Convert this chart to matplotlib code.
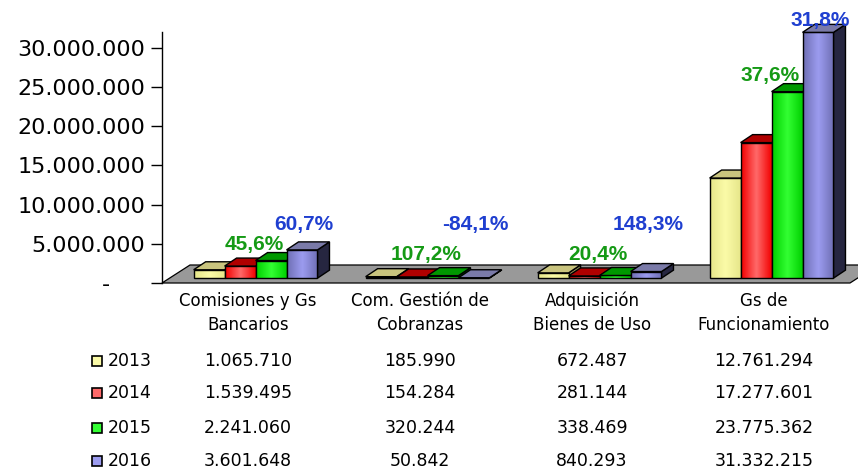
import matplotlib
matplotlib.use("Agg")
import matplotlib.pyplot as plt
import matplotlib.patches as patches
import matplotlib.transforms as mtransforms
from matplotlib.colors import LinearSegmentedColormap
import numpy as np

categorias = ["Comisiones y Gs\nBancarios", "Com. Gestión de\nCobranzas",
              "Adquisición\nBienes de Uso", "Gs de\nFuncionamiento"]
anios = ["2013", "2014", "2015", "2016"]
v2013 = [1065710, 185990, 672487, 12761294]
v2014 = [1539495, 154284, 281144, 17277601]
v2015 = [2241060, 320244, 338469, 23775362]
v2016 = [3601648, 50842, 840293, 31332215]
var_2015 = ["45,6%", "107,2%", "20,4%", "37,6%"]
var_2016 = ["60,7%", "-84,1%", "148,3%", "31,8%"]

series = [v2013, v2014, v2015, v2016]

# colores: (borde del degradado, centro, tapa, lateral)
colores = [("#e6e68a", "#fbfba8", "#c9c47e", "#8f8c55"),
           ("#f20000", "#ff6a6a", "#b00000", "#700000"),
           ("#00d000", "#33ff33", "#009800", "#005a00"),
           ("#6f6fb4", "#9c9cf0", "#7a7aa8", "#262640")]
verde_txt = "#159a15"
azul_txt = "#1f3fd0"

W, H = 858, 469
fig = plt.figure(figsize=(W / 100, H / 100), dpi=100)
ax_l, ax_r, ax_t, ax_b = 162, 850, 32, 283
ax = fig.add_axes([ax_l / W, 1 - ax_b / H, (ax_r - ax_l) / W, (ax_b - ax_t) / H])

ymax = 32e6
ax.set_xlim(-0.5, 3.5)
ax.set_ylim(0, ymax)

# conversion de pixeles a unidades de datos para el efecto 3D
px_x = 4 / (ax_r - ax_l)
px_y = ymax / (ax_b - ax_t)
fdx, fdy = 28 * px_x, 18 * px_y      # profundidad del suelo
sdx, sdy = 0.27 * fdx, 0.27 * fdy    # desplazamiento de la cara frontal
bdx, bdy = 12 * px_x, 8 * px_y       # profundidad de las barras

# suelo gris
suelo = patches.Polygon([(-0.5, 0), (3.5, 0), (3.5 + fdx, fdy), (-0.5 + fdx, fdy)],
                        closed=True, facecolor="#999999", edgecolor="black",
                        linewidth=0.9, clip_on=False, zorder=1)
ax.add_patch(suelo)

ancho = 0.18
desp = [-1.5 * ancho, -0.5 * ancho, 0.5 * ancho, 1.5 * ancho]
x = np.arange(len(categorias))

z = 2
tops = {}
for i in range(len(categorias)):
    for j, serie in enumerate(series):
        borde, centro, tapa, lateral = colores[j]
        x0 = x[i] + desp[j] - ancho / 2 + sdx
        x1 = x0 + ancho
        y0 = sdy
        y1 = y0 + serie[i]
        cmap = LinearSegmentedColormap.from_list("g", [borde, centro, borde])
        grad = np.linspace(0, 1, 64).reshape(1, -1)
        ax.imshow(grad, extent=(x0, x1, y0, y1), cmap=cmap, aspect="auto",
                  interpolation="bicubic", zorder=z, clip_on=False)
        ax.add_patch(patches.Rectangle((x0, y0), ancho, serie[i], fill=False,
                                       edgecolor="black", linewidth=1.0,
                                       zorder=z + 0.1, clip_on=False))
        ax.add_patch(patches.Polygon([(x0, y1), (x1, y1), (x1 + bdx, y1 + bdy), (x0 + bdx, y1 + bdy)],
                                     closed=True, facecolor=tapa, edgecolor="black",
                                     linewidth=1.0, zorder=z + 0.2, clip_on=False))
        ax.add_patch(patches.Polygon([(x1, y0), (x1 + bdx, y0 + bdy), (x1 + bdx, y1 + bdy), (x1, y1)],
                                     closed=True, facecolor=lateral, edgecolor="black",
                                     linewidth=1.0, zorder=z - 0.1, clip_on=False))
        tops[(i, j)] = ((x0 + x1) / 2, y1 + bdy)
        z += 1

ax.set_xlim(-0.5, 3.5)
ax.set_ylim(0, ymax)

# etiquetas de variacion
fuente_pct = dict(family=["Liberation Sans", "DejaVu Sans"], fontsize=15,
                  fontweight="bold", ha="center", va="center", zorder=100)
for i in range(len(categorias)):
    gx, gy = tops[(i, 2)]
    ax.text(gx - 0.1, max(gy + 1.0e6, 3.6e6), var_2015[i], color=verde_txt, **fuente_pct)
    bx, by = tops[(i, 3)]
    ax.text(bx + 0.01, max(by + 0.5e6, 7.4e6), var_2016[i], color=azul_txt, **fuente_pct)

# ejes
for s in ["top", "right", "bottom"]:
    ax.spines[s].set_visible(False)
ax.spines["left"].set_linewidth(1.0)
ax.set_xticks([])
yt = np.arange(0, 30e6 + 1, 5e6)
ax.set_yticks(yt)
ax.set_yticklabels(["-     "] + [f"{int(v):,}".replace(",", ".") for v in yt[1:]])
ax.tick_params(axis="y", direction="out", length=8, width=1, labelsize=16, pad=4)

# tabla de datos
tr = mtransforms.blended_transform_factory(ax.transData, fig.transFigure)
fy = lambda py: 1 - py / H
for i, c in enumerate(categorias):
    ax.text(x[i], fy(313), c, transform=tr, ha="center", va="center",
            fontsize=12, linespacing=1.45)

filas_y = [361, 393, 428, 461]
for j, serie in enumerate(series):
    for i in range(len(categorias)):
        ax.text(x[i], fy(filas_y[j]), f"{serie[i]:,}".replace(",", "."), transform=tr,
                ha="center", va="center", fontsize=12.5)
    fig.patches.append(patches.Rectangle((92 / W, fy(filas_y[j] + 5)), 10 / W, 10 / H,
                                         transform=fig.transFigure, facecolor=colores[j][1],
                                         edgecolor="black", linewidth=1.2))
    fig.text(108 / W, fy(filas_y[j]), anios[j], ha="left", va="center", fontsize=12.5)

fig.savefig("out.png", dpi=100)
